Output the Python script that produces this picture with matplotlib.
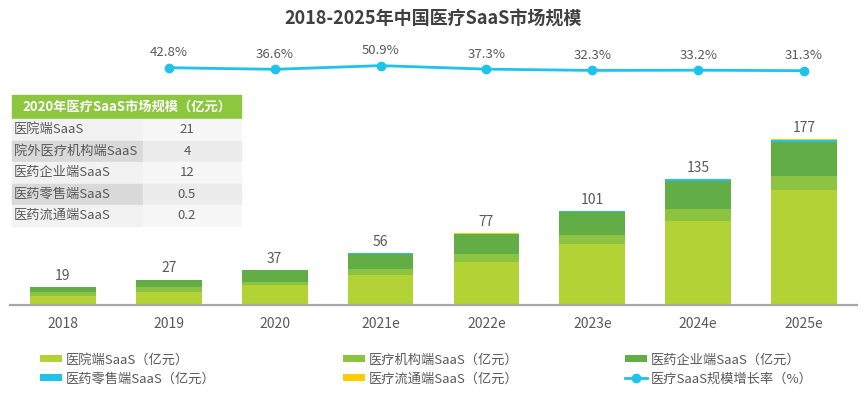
import matplotlib.pyplot as plt
from matplotlib.patches import Rectangle
import numpy as np

plt.rcParams['font.family'] = ['Noto Sans CJK SC', 'DejaVu Sans']

# data (亿元)
years = ['2018', '2019', '2020', '2021e', '2022e', '2023e', '2024e', '2025e']
hospital = [10, 14.4, 21, 31.8, 45.8, 65, 90, 123]
institution = [3.5, 4.6, 4, 6.8, 8.6, 9.7, 13, 15.3]
enterprise = [5.3, 7.8, 12, 16.4, 21.5, 24.5, 30, 36]
retail = [0.2, 0.3, 0.5, 0.5, 0.5, 1.2, 1.6, 2.4]
circulation = [0.1, 0.1, 0.2, 0.2, 0.3, 0.5, 0.5, 0.8]
totals = [19, 27, 37, 56, 77, 101, 135, 177]
growth = [42.8, 36.6, 50.9, 37.3, 32.3, 33.2, 31.3]  # 2019 -> 2025e

table_title = '2020年医疗SaaS市场规模（亿元）'
table_rows = ['医院端SaaS', '院外医疗机构端SaaS', '医药企业端SaaS', '医药零售端SaaS', '医药流通端SaaS']
table_vals = ['21', '4', '12', '0.5', '0.2']

series = [
    ('医院端SaaS（亿元）', hospital, '#b3d235'),
    ('医疗机构端SaaS（亿元）', institution, '#8cc441'),
    ('医药企业端SaaS（亿元）', enterprise, '#62ad45'),
    ('医药零售端SaaS（亿元）', retail, '#22c1ea'),
    ('医疗流通端SaaS（亿元）', circulation, '#ffcc00'),
]
line_color = '#1fc3ea'
text_gray = '#595959'

W, H = 865, 397
fig = plt.figure(figsize=(W / 100, H / 100), dpi=100)
ax = fig.add_axes([10 / W, 1 - 305 / H, 847 / W, 265 / H])

x = np.arange(len(years))
bottom = np.zeros(len(years))
handles = []
for name, vals, col in series:
    b = ax.bar(x, vals, 0.62, bottom=bottom, color=col, label=name, linewidth=0)
    bottom += np.array(vals)
    handles.append(b)

for xi, top, t in zip(x, bottom, totals):
    ax.annotate(str(t), (xi, top), xytext=(0, 3), textcoords='offset points',
                ha='center', va='bottom', fontsize=10, color=text_gray)

ax.set_xlim(-0.5, 7.5)
ax.set_ylim(0, 284)
ax.set_xticks(x)
ax.set_xticklabels(years, fontsize=10, color=text_gray)
ax.tick_params(axis='x', length=0, pad=9)
ax.set_yticks([])
for s in ['top', 'left', 'right']:
    ax.spines[s].set_visible(False)
ax.spines['bottom'].set_color('#a6a6a6')
ax.spines['bottom'].set_linewidth(1.6)

ax2 = ax.twinx()
ax2.set_ylim(-875, 150)
ax2.axis('off')
gl, = ax2.plot(x[1:], growth, color=line_color, lw=2, marker='o', markersize=6,
               label='医疗SaaS规模增长率（%）')
for xi, g in zip(x[1:], growth):
    ax2.annotate(f'{g}%', (xi, g), xytext=(0, 6), textcoords='offset points',
                 ha='center', va='bottom', fontsize=9.5, color=text_gray)

# title
fig.text(433 / W, 1 - 19 / H, '2018-2025年中国医疗SaaS市场规模', ha='center', va='center',
         fontsize=13, fontweight='bold', color='#404040')

# inset table (pixel layout)
def px(xp, yp):
    return xp / W, 1 - yp / H

tx0, tx1, tx2 = 12, 143, 241
fig.patches.append(Rectangle(px(tx0, 118), (tx2 - tx0) / W, 23 / H, transform=fig.transFigure,
                             color='#8dc63f', zorder=1))
fig.text(*px((tx0 + tx2) / 2, 106.5), table_title, ha='center', va='center', fontsize=9.5,
         fontweight='bold', color='white')
row_h = 21.5
for i, (lab, val) in enumerate(zip(table_rows, table_vals)):
    y0 = 119 + i * row_h
    c1 = '#f2f2f2' if i % 2 == 0 else '#d9d9d9'
    c2 = '#f7f7f7' if i % 2 == 0 else '#ececec'
    fig.patches.append(Rectangle(px(tx0, y0 + row_h - 1), (tx1 - tx0 - 1) / W, (row_h - 1) / H,
                                 transform=fig.transFigure, color=c1, zorder=1))
    fig.patches.append(Rectangle(px(tx1, y0 + row_h - 1), (tx2 - tx1) / W, (row_h - 1) / H,
                                 transform=fig.transFigure, color=c2, zorder=1))
    fig.text(*px(tx0 + 2, y0 + row_h / 2), lab, ha='left', va='center', fontsize=9.5, color=text_gray)
    fig.text(*px((tx1 + tx2) / 2 - 5, y0 + row_h / 2), val, ha='center', va='center',
             fontsize=9.5, color=text_gray)

# legend: three columns placed by hand
cols = [(33, [handles[0], handles[3]]), (336, [handles[1], handles[4]]), (618, [handles[2], gl])]
for xp, hs in cols:
    fig.legend(hs, [h.get_label() for h in hs], loc='upper left', bbox_to_anchor=px(xp, 347),
               frameon=False, fontsize=9.5, labelcolor=text_gray, handlelength=1.7,
               handleheight=0.45, handletextpad=0.3, labelspacing=0.45, borderpad=0)

fig.savefig('out.png', dpi=100, facecolor='white')
